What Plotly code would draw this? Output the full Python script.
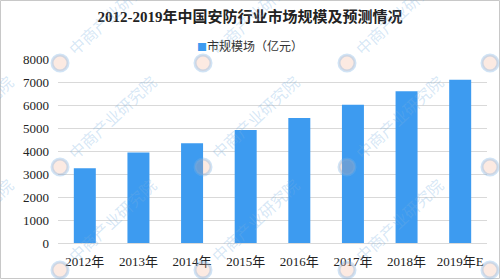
import plotly.graph_objects as go

categories = ["2012年", "2013年", "2014年", "2015年", "2016年", "2017年", "2018年", "2019年E"]
values = [3250, 3940, 4340, 4910, 5440, 6010, 6600, 7100]
series_name = "市规模场（亿元）"
title_text = "2012-2019年中国安防行业市场规模及预测情况"
y_ticks = [0, 1000, 2000, 3000, 4000, 5000, 6000, 7000, 8000]
watermark_text = "中商产业研究院"

W, H = 500, 280
L, R, T, B = 58, 13, 59, 37
PW, PH = W - L - R, H - T - B


def px(x):
    return (x - L) / PW


def py(y):
    return (H - B - y) / PH


BLUE = "#3d9bf0"
serif = "Liberation Serif, Times New Roman, Noto Sans CJK SC, serif"

fig = go.Figure()
fig.add_trace(go.Bar(
    x=categories, y=values, name=series_name,
    marker=dict(color=BLUE, line=dict(width=0)),
    showlegend=False,
))

annotations = []
shapes = []

# watermarks (logo + text, diagonal)
logo_cols = [-83, 60, 203, 347, 490]
logo_rows = [63, 167, 270]
for lx in logo_cols:
    for ly in logo_rows:
        cx, cy = lx + 52, ly - 50
        annotations.append(dict(
            x=px(cx), y=py(cy), xref="paper", yref="paper",
            text=watermark_text, showarrow=False, textangle=-43,
            xanchor="center", yanchor="middle",
            font=dict(family="Noto Sans CJK SC", size=16, color="rgba(120,175,225,0.30)"),
        ))
        shapes.append(dict(
            type="circle", xref="paper", yref="paper",
            x0=px(lx - 8), x1=px(lx + 8), y0=py(ly + 8), y1=py(ly - 8),
            line=dict(color="rgba(120,175,225,0.35)", width=3),
            fillcolor="rgba(245,170,140,0.25)", layer="above",
        ))

# legend (drawn as text)
annotations.append(dict(
    x=px(250), y=py(45), xref="paper", yref="paper", showarrow=False,
    xanchor="center", yanchor="middle",
    text="<span style='color:%s;font-size:10px'>■</span>%s" % (BLUE, series_name),
    font=dict(family="Noto Sans CJK SC, sans-serif", size=12, color="#333333"),
))

# outer border
shapes.append(dict(type="rect", xref="paper", yref="paper",
                   x0=px(0.5), x1=px(W - 0.5), y0=py(H - 1.5), y1=py(0.5),
                   line=dict(color="#c8c8c8", width=1), fillcolor="rgba(0,0,0,0)",
                   layer="below"))

fig.update_layout(
    width=W, height=H,
    margin=dict(l=L, r=R, t=T, b=B, pad=0),
    paper_bgcolor="white", plot_bgcolor="white",
    bargap=0.59,
    title=dict(text="<b>" + title_text + "</b>", x=0.5, xanchor="center",
               y=1 - 17 / H, yanchor="middle",
               font=dict(family=serif, size=15, color="#222222")),
    showlegend=False,
    xaxis=dict(tickfont=dict(family=serif, size=13, color="#222222"),
               showgrid=False, showline=True, linecolor="#d9d9d9", linewidth=1,
               ticks="", ticklabelstandoff=6),
    yaxis=dict(range=[0, 8000], tickvals=y_ticks,
               tickfont=dict(family=serif, size=13, color="#222222"),
               showgrid=True, gridcolor="#d9d9d9", gridwidth=1,
               zeroline=False, showline=False, ticks="", ticklabelstandoff=8),
    annotations=annotations,
    shapes=shapes,
)

fig.write_html("out.html")
